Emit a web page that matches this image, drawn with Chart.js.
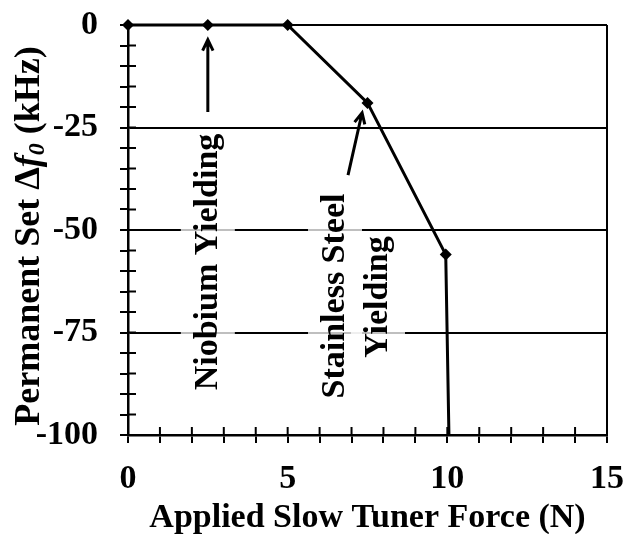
<!DOCTYPE html>
<html>
<head>
<meta charset="utf-8">
<script src="https://cdn.jsdelivr.net/npm/chart.js@4.4.1/dist/chart.umd.min.js"></script>
<style>
  html, body { margin: 0; padding: 0; background: #fff; }
  #wrap { width: 634px; height: 534px; position: relative; }
</style>
</head>
<body>
<div id="wrap"><canvas id="set-graph"></canvas></div>
<script>
// applied force (N) and permanent set (kHz)
const force = [0, 2.5, 5, 7.5, 9.95, 10.05];
const permanentSet = [0, 0, 0, -19, -56, -100];
const xTickLabels = [0, 5, 10, 15];
const yTickLabels = [0, -25, -50, -75, -100];

// annotation arrows in data units: [x, y]
const niobiumArrow = { from: [2.5, -21.2], to: [2.5, -3.6] };
const steelArrow = { from: [6.89, -36.6], to: [7.33, -21.4] };

const FONT = 'Liberation Serif';

const ctx = document.getElementById('set-graph');

// draws the inner half of the tick crosses, the y title and the annotations
const extras = {
    id: 'extras',
    afterDraw(chart) {
        const c = chart.ctx;
        const xs = chart.scales.x;
        const ys = chart.scales.y;
        const area = chart.chartArea;
        c.save();

        // inner tick marks
        c.strokeStyle = '#000';
        c.lineWidth = 2;
        c.beginPath();
        for (let v = 1; v < 15; v++) {
            const px = xs.getPixelForValue(v);
            c.moveTo(px, area.bottom);
            c.lineTo(px, area.bottom - 8);
        }
        for (let v = -95; v < 0; v += 5) {
            const py = ys.getPixelForValue(v);
            c.moveTo(area.left, py);
            c.lineTo(area.left + 8, py);
        }
        c.stroke();

        // y title: Permanent Set Δf0 (kHz)
        c.save();
        c.translate(30, 236);
        c.rotate(-Math.PI / 2);
        c.fillStyle = '#000';
        c.textBaseline = 'middle';
        const parts = [
            ['Permanent Set \u0394', 'bold 36px ' + FONT, 0],
            ['f', 'italic bold 36px ' + FONT, 0],
            ['0', 'italic bold 24px ' + FONT, 8],
            [' (kHz)', 'bold 36px ' + FONT, 0]
        ];
        let total = 0;
        parts.forEach(p => { c.font = p[1]; total += c.measureText(p[0]).width; });
        let pos = -total / 2;
        parts.forEach(p => {
            c.font = p[1];
            c.textAlign = 'left';
            c.fillText(p[0], pos, p[2]);
            pos += c.measureText(p[0]).width;
        });
        c.restore();

        // annotation texts with a faded box behind
        function vText(str, x, y) {
            c.save();
            c.translate(x, y);
            c.rotate(-Math.PI / 2);
            c.font = 'bold 34px ' + FONT;
            c.textAlign = 'center';
            c.textBaseline = 'middle';
            const w = c.measureText(str).width;
            c.fillStyle = 'rgba(255,255,255,0.75)';
            c.fillRect(-w / 2 - 4, -27, w + 8, 54);
            c.fillStyle = '#000';
            c.fillText(str, 0, 0);
            c.restore();
        }
        vText('Niobium Yielding', xs.getPixelForValue(2.5), 262);
        vText('Stainless Steel', 335, 296);
        vText('Yielding', 378, 297);

        // arrows
        function arrow(a) {
            const x1 = xs.getPixelForValue(a.from[0]);
            const y1 = ys.getPixelForValue(a.from[1]);
            const x2 = xs.getPixelForValue(a.to[0]);
            const y2 = ys.getPixelForValue(a.to[1]);
            const ang = Math.atan2(y2 - y1, x2 - x1);
            c.strokeStyle = '#000';
            c.lineWidth = 3;
            c.beginPath();
            c.moveTo(x1, y1);
            c.lineTo(x2, y2);
            c.moveTo(x2 - 12 * Math.cos(ang - 0.45), y2 - 12 * Math.sin(ang - 0.45));
            c.lineTo(x2, y2);
            c.lineTo(x2 - 12 * Math.cos(ang + 0.45), y2 - 12 * Math.sin(ang + 0.45));
            c.stroke();
        }
        arrow(niobiumArrow);
        arrow(steelArrow);

        c.restore();
    }
};

const graph = new Chart(ctx, {
    type: 'scatter',
    data: {
        datasets: [{
            data: force.map((f, i) => ({ x: f, y: permanentSet[i] })),
            showLine: true,
            borderColor: '#000',
            borderWidth: 3,
            backgroundColor: '#000',
            pointStyle: 'rectRot',
            pointRadius: [6, 6, 6, 6, 6, 0],
            pointBorderWidth: 0,
            clip: false
        }]
    },
    options: {
        responsive: true,
        maintainAspectRatio: false,
        animation: false,
        layout: { padding: { top: 25, right: 27, left: 0, bottom: 0 } },
        plugins: {
            legend: { display: false },
            tooltip: { enabled: false }
        },
        scales: {
            x: {
                type: 'linear',
                min: 0,
                max: 15,
                afterFit: s => {
                    s.height = 99;
                    s.paddingLeft = 0;
                    s.paddingRight = 0;
                },
                border: { color: '#000', width: 2.5 },
                grid: {
                    color: c => c.tick.value === 15 ? '#000' : 'rgba(0,0,0,0)',
                    lineWidth: 2,
                    tickColor: '#000',
                    tickWidth: 2,
                    tickLength: 8
                },
                ticks: {
                    stepSize: 1,
                    autoSkip: false,
                    maxRotation: 0,
                    color: '#000',
                    padding: 16,
                    font: { family: FONT, size: 34, weight: 'bold' },
                    callback: v => xTickLabels.includes(v) ? String(v) : ''
                },
                title: {
                    display: true,
                    text: 'Applied Slow Tuner Force (N)',
                    color: '#000',
                    padding: { top: 0, bottom: -5 },
                    font: { family: FONT, size: 34, weight: 'bold' }
                }
            },
            y: {
                min: -100,
                max: 0,
                afterFit: s => {
                    s.width = 128;
                    s.paddingTop = 0;
                    s.paddingBottom = 0;
                },
                border: { color: '#000', width: 2.5 },
                grid: {
                    color: c => c.tick.value % 25 === 0 ? '#000' : 'rgba(0,0,0,0)',
                    lineWidth: 2,
                    tickColor: '#000',
                    tickWidth: 2,
                    tickLength: 8
                },
                ticks: {
                    stepSize: 5,
                    autoSkip: false,
                    color: '#000',
                    padding: 22,
                    font: { family: FONT, size: 34, weight: 'bold' },
                    callback: v => yTickLabels.includes(v) ? String(v) : ''
                }
            }
        }
    },
    plugins: [extras]
});
</script>
</body>
</html>
